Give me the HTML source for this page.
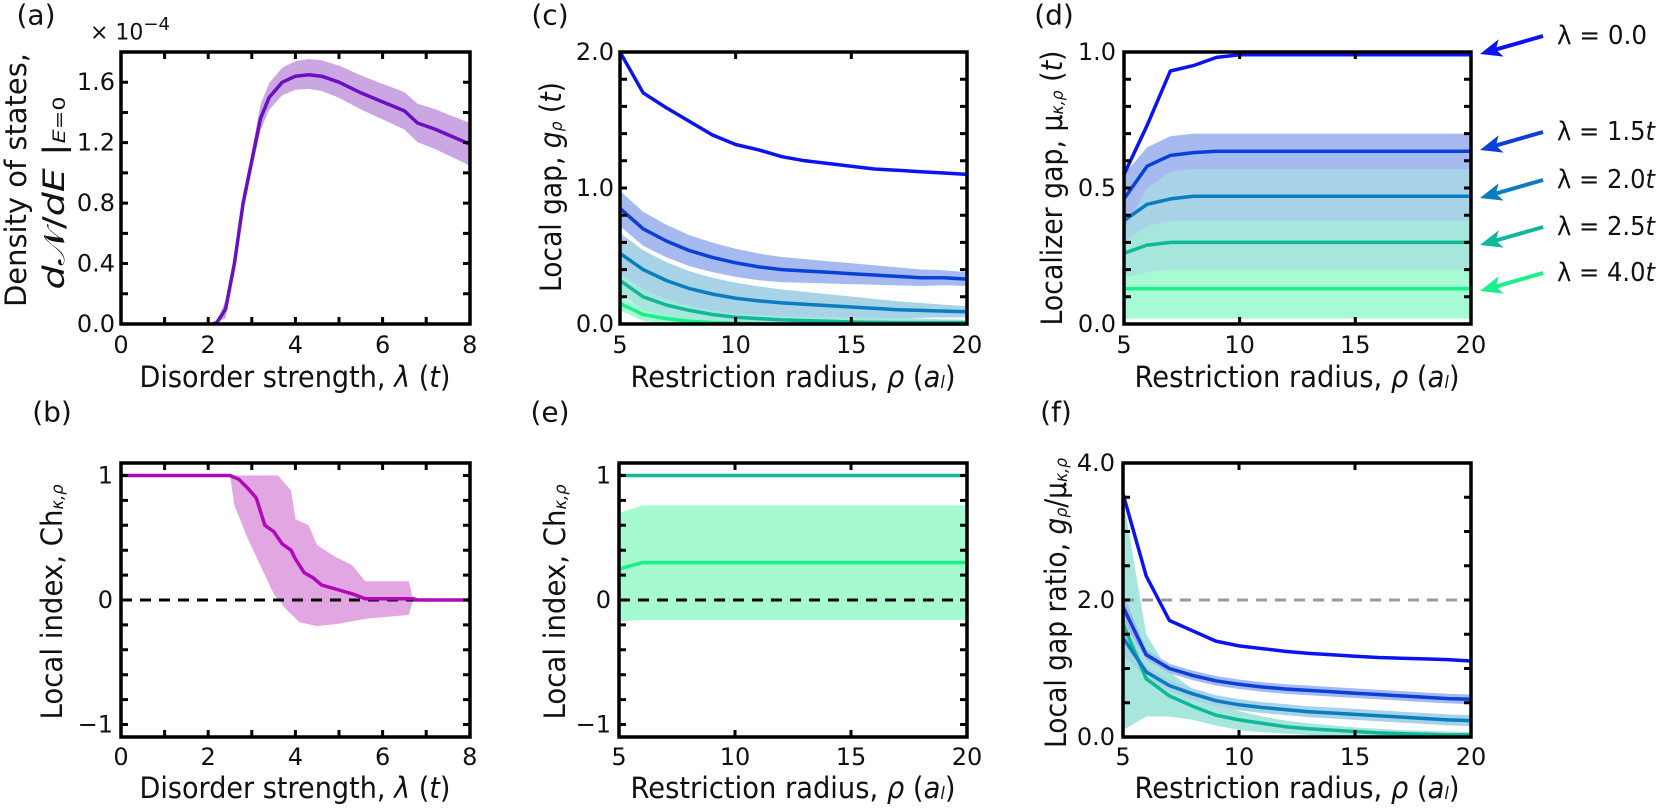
<!DOCTYPE html>
<html><head><meta charset="utf-8"><style>
html,body{margin:0;padding:0;background:#fff;}
svg{display:block;font-family:"DejaVu Sans","Liberation Sans",sans-serif;}
</style></head><body>
<svg id="s" width="1661" height="809" xmlns="http://www.w3.org/2000/svg"></svg>
<script>
const S=document.getElementById('s');let out='';
function P(pts){return pts.map((p,i)=>(i?'L':'M')+p[0].toFixed(1)+','+p[1].toFixed(1)).join('');}
function line(pts,c,w,extra){out+=`<path d="${P(pts)}" fill="none" stroke="${c}" stroke-width="${w}" stroke-linejoin="round" ${extra||''}/>`;}
function band(up,lo,c){out+=`<path d="${P(up.concat(lo.slice().reverse()))}Z" fill="${c}"/>`;}
function text(x,y,t,o){o=o||{};out+=`<text x="${x}" y="${y}" font-size="${o.fs||24}" text-anchor="${o.a||'middle'}" dominant-baseline="central" ${o.tl?`textLength="${o.tl}" lengthAdjust="spacingAndGlyphs"`:''} ${o.rot?`transform="rotate(-90 ${x} ${y})"`:''} fill="#111">${t}</text>`;}
function frame(L,R,T,B){out+=`<rect x="${L}" y="${T}" width="${R-L}" height="${B-T}" fill="none" stroke="#000" stroke-width="3.5"/>`;}
function xt(L,R,T,B,xs,fx,len){xs.forEach(v=>{const x=fx(v);out+=`<path d="M${x},${B}V${B-len}M${x},${T}V${T+len}" stroke="#000" stroke-width="3"/>`;});}
function yt(L,R,T,B,ys,fy,len){ys.forEach(v=>{const y=fy(v);out+=`<path d="M${L},${y}H${L+len}M${R},${y}H${R-len}" stroke="#000" stroke-width="3"/>`;});}
function rng(a,b,st){const r=[];for(let v=a;v<=b+1e-9;v+=st)r.push(+v.toFixed(6));return r;}
const R=rng(5,20,1);
// ---------- Panel a
{const L=121,Rr=470,T=52,B=324;const fx=x=>L+x*43.6,fy=v=>B-v*151.1;
const m=[[2.1,0],[2.2,0.01],[2.4,0.1],[2.6,0.4],[2.8,0.8],[3.0,1.08],[3.2,1.36],[3.4,1.5],[3.7,1.6],[4.0,1.64],[4.3,1.65],[4.6,1.64],[5,1.6],[5.5,1.53],[6,1.47],[6.5,1.41],[6.8,1.33],[7.2,1.29],[7.6,1.24],[8,1.19]];
const up=m.map(([x,v],i)=>[fx(x),fy(x<2.3?v:v+(x<3.2?0.06:0.1+(x-4)*0.01))]);
const lo=m.map(([x,v])=>[fx(x),fy(x<2.3?v:Math.max(0,v-(x<3.2?0.06:0.09+(x-4)*0.013)))]);
band(up,lo,'#caa6e2');line(m.map(([x,v])=>[fx(x),fy(v)]),'#6a10c0',3.5);
frame(L,Rr,T,B);xt(L,Rr,T,B,rng(1,7,1),fx,7);yt(L,Rr,T,B,rng(0.2,1.6,0.2),fy,7);
[0,2,4,6,8].forEach(v=>text(fx(v),345,v));
[0,0.4,0.8,1.2,1.6].forEach(v=>text(L-6,fy(v),v.toFixed(1),{a:'end'}));
text(90,33,'× 10<tspan font-size="18" dy="-9">−4</tspan>',{fs:22,a:'start'});
text(36,15,'(a)',{fs:28});
text(295,377,'Disorder strength, <tspan font-style="italic">λ</tspan> (<tspan font-style="italic">t</tspan>)',{fs:29,tl:311});
text(16,180,'Density of states,',{fs:29,rot:1,tl:254});
text(54,193,'<tspan font-style="italic">d</tspan>𝒩/<tspan font-style="italic">dE</tspan> |<tspan font-size="17" font-style="italic" dy="6">E</tspan><tspan font-size="17" dy="0">=0</tspan>',{fs:29,rot:1,tl:193});
}
// ---------- Panel c
const cols={l0:'#0a14f0',l15:'#0a40d8',l2:'#0a7cc0',l25:'#10b89a',l4:'#18f08a'};
const bands={l15:'#a6baf0',l2:'#a8d2e6',l25:'#a6e6dc',l4:'#a6fad4'};
{const L=620,Rr=967,T=52,B=324;const fx=x=>L+(x-5)*23.13,fy=v=>B-v*136;
const d0=[2.0,1.7,1.59,1.49,1.39,1.32,1.28,1.23,1.2,1.18,1.16,1.14,1.13,1.12,1.11,1.1];
const d15=[0.85,0.7,0.61,0.54,0.49,0.45,0.42,0.40,0.39,0.38,0.37,0.36,0.35,0.34,0.34,0.33];
const d2=[0.52,0.4,0.32,0.26,0.22,0.19,0.17,0.155,0.145,0.135,0.125,0.115,0.105,0.1,0.095,0.09];
const d25=[0.32,0.2,0.14,0.1,0.07,0.05,0.04,0.03,0.025,0.02,0.015,0.012,0.01,0.01,0.01,0.01];
const d4=[0.15,0.07,0.04,0.02,0.01,0.005,0,0,0,0,0,0,0,0,0,0];
const mk=(d,w0,w1)=>[R.map((x,i)=>[fx(x),fy(d[i]+w0+(w1-w0)*i/15)]),R.map((x,i)=>[fx(x),fy(Math.max(0,d[i]-w0-(w1-w0)*i/15))])];
let b;
b=mk(d4,0.05,0.01);band(b[0],b[1],bands.l4);
b=mk(d25,0.1,0.02);band(b[0],b[1],bands.l25);
b=mk(d2,0.15,0.04);band(b[0],b[1],bands.l2);
b=mk(d15,0.13,0.05);band(b[0],b[1],bands.l15);
[[d4,'l4'],[d25,'l25'],[d2,'l2'],[d15,'l15'],[d0,'l0']].forEach(([d,k])=>line(R.map((x,i)=>[fx(x),fy(d[i])]),cols[k],3.5));
frame(L,Rr,T,B);xt(L,Rr,T,B,[10,15],fx,7);yt(L,Rr,T,B,rng(0.2,1.8,0.2),fy,7);
[5,10,15,20].forEach(v=>text(fx(v),345,v));
[0,1,2].forEach(v=>text(L-6,fy(v),v.toFixed(1),{a:'end'}));
text(550,15,'(c)',{fs:28});
text(793,377,'Restriction radius, <tspan font-style="italic">ρ</tspan> (<tspan font-style="italic">a<tspan font-size="17" dy="6">l</tspan></tspan><tspan dy="-6">)</tspan>',{fs:29,tl:325});
text(551,187,'Local gap, <tspan font-style="italic">g<tspan font-size="17" dy="6">ρ</tspan></tspan><tspan dy="-6"> (</tspan><tspan font-style="italic">t</tspan>)',{fs:29,rot:1,tl:210});
}
// ---------- Panel d
{const L=1124,Rr=1471,T=52,B=324;const fx=x=>L+(x-5)*23.13,fy=v=>B-v*272;
const f=(a,s)=>R.map((x,i)=>[fx(x),fy(i<a.length?a[i]:a[a.length-1])]);
band(f([0.2,0.23,0.24]),f([0.02]),bands.l4);
band(f([0.38,0.4,0.41]),f([0.17,0.19,0.2]),bands.l25);
band(f([0.55,0.56,0.57]),f([0.3,0.36,0.38]),bands.l2);
band(f([0.55,0.65,0.69,0.7]),f([0.35,0.5,0.56,0.57]),bands.l15);
line(f([0.13]),cols.l4,3.5);line(f([0.26,0.29,0.3]),cols.l25,3.5);line(f([0.38,0.44,0.46,0.47]),cols.l2,3.5);
line(f([0.46,0.58,0.62,0.63,0.635]),cols.l15,3.5);line(f([0.55,0.73,0.93,0.95,0.98,0.99]),cols.l0,3.5);
frame(L,Rr,T,B);xt(L,Rr,T,B,[10,15],fx,7);yt(L,Rr,T,B,rng(0.1,0.9,0.1),fy,7);
[5,10,15,20].forEach(v=>text(fx(v),345,v));
[0,0.5,1].forEach(v=>text(L-8,fy(v),v.toFixed(1),{a:'end'}));
text(1054,15,'(d)',{fs:28});
text(1297,377,'Restriction radius, <tspan font-style="italic">ρ</tspan> (<tspan font-style="italic">a<tspan font-size="17" dy="6">l</tspan></tspan><tspan dy="-6">)</tspan>',{fs:29,tl:325});
text(1052,188,'Localizer gap, μ<tspan font-size="17" dy="6" font-style="italic">κ,ρ</tspan><tspan dy="-6"> (</tspan><tspan font-style="italic">t</tspan>)',{fs:29,rot:1,tl:275});
const labs=[[36,'0.0',cols.l0,90],[132,'1.5<tspan font-style="italic">t</tspan>',cols.l15,98],[180,'2.0<tspan font-style="italic">t</tspan>',cols.l2,98],[227,'2.5<tspan font-style="italic">t</tspan>',cols.l25,98],[273,'4.0<tspan font-style="italic">t</tspan>',cols.l4,98]];
labs.forEach(([y,t,c,tl])=>{
 text(1557,y,'λ = '+t,{fs:26,a:'start',tl:tl});
 const tx=1543,ty=y,hx=1480,hy=y+18;const ang=Math.atan2(hy-ty,hx-tx);
 const bx=hx-22*Math.cos(ang),by=hy-22*Math.sin(ang);const px=-Math.sin(ang)*9,py=Math.cos(ang)*9;
 out+=`<path d="M${tx},${ty}L${bx+ (hx-bx)*0.3},${by+(hy-by)*0.3}" stroke="${c}" stroke-width="4"/>`;
 out+=`<path d="M${hx},${hy}L${bx+px},${by+py}L${bx+(hx-bx)*0.25},${by+(hy-by)*0.25}L${bx-px},${by-py}Z" fill="${c}"/>`;
});
}
// ---------- Panel b
{const L=121,Rr=470,T=463,B=737;const fx=x=>L+x*43.6,fy=v=>600-v*124.5;
const up=[[2.5,1],[3.6,1],[3.9,0.88],[4.0,0.65],[4.3,0.6],[4.5,0.44],[4.9,0.35],[5.3,0.28],[5.6,0.15],[6.6,0.15],[6.7,0]];
const lo=[[2.5,1],[2.6,0.76],[2.9,0.5],[3.3,0.2],[3.5,0.05],[3.8,-0.08],[4.1,-0.18],[4.5,-0.21],[5,-0.19],[5.6,-0.15],[6.6,-0.12],[6.7,0]];
band(up.map(([x,v])=>[fx(x),fy(v)]),lo.map(([x,v])=>[fx(x),fy(v)]),'#e2a6e2');
out+=`<path d="M${L},600H${Rr}" stroke="#000" stroke-width="3" stroke-dasharray="11,8"/>`;
const m=[[0,1],[2.5,1],[2.7,0.97],[2.9,0.9],[3.1,0.82],[3.3,0.6],[3.5,0.55],[3.7,0.45],[3.9,0.4],[4.0,0.33],[4.2,0.22],[4.4,0.18],[4.6,0.12],[5.0,0.08],[5.3,0.05],[5.6,0.01],[6.7,0.01],[6.8,0],[8,0]];
line(m.map(([x,v])=>[fx(x),fy(v)]),'#b00ab8',3.5);
frame(L,Rr,T,B);xt(L,Rr,T,B,rng(1,7,1),fx,7);yt(L,Rr,T,B,rng(-1,1,0.2),fy,7);
[0,2,4,6,8].forEach(v=>text(fx(v),757,v));
[[1,'1'],[0,'0'],[-1,'−1']].forEach(([v,t])=>text(L-8,fy(v),t,{a:'end'}));
text(52,412,'(b)',{fs:28});
text(295,788,'Disorder strength, <tspan font-style="italic">λ</tspan> (<tspan font-style="italic">t</tspan>)',{fs:29,tl:311});
text(52,602,'Local index, Ch<tspan font-size="17" dy="6" font-style="italic">κ,ρ</tspan>',{fs:29,rot:1,tl:235});
}
// ---------- Panel e
{const L=619,Rr=967,T=463,B=737;const fx=x=>L+(x-5)*23.2,fy=v=>600-v*124.5;
band(R.map(x=>[fx(x),fy(x==5?0.7:0.76)]),R.map(x=>[fx(x),fy(x==5?-0.17:-0.16)]),'#a6fad0');
out+=`<path d="M${L},600H${Rr}" stroke="#000" stroke-width="3" stroke-dasharray="11,8"/>`;
line(R.map(x=>[fx(x),fy(x==5?0.25:0.3)]),'#18f08a',3.5);
line([[fx(5),fy(1)],[fx(20),fy(1)]],'#10b8a0',3.5);
frame(L,Rr,T,B);xt(L,Rr,T,B,[10,15],fx,7);yt(L,Rr,T,B,rng(-1,1,0.2),fy,7);
[5,10,15,20].forEach(v=>text(fx(v),757,v));
[[1,'1'],[0,'0'],[-1,'−1']].forEach(([v,t])=>text(L-8,fy(v),t,{a:'end'}));
text(550,412,'(e)',{fs:28});
text(793,788,'Restriction radius, <tspan font-style="italic">ρ</tspan> (<tspan font-style="italic">a<tspan font-size="17" dy="6">l</tspan></tspan><tspan dy="-6">)</tspan>',{fs:29,tl:325});
text(555,602,'Local index, Ch<tspan font-size="17" dy="6" font-style="italic">κ,ρ</tspan>',{fs:29,rot:1,tl:235});
}
// ---------- Panel f
{const L=1123,Rr=1471,T=463,B=737;const fx=x=>L+(x-5)*23.2,fy=v=>B-v*68.5;
const d0=[3.55,2.35,1.7,1.55,1.4,1.33,1.29,1.25,1.22,1.2,1.18,1.16,1.15,1.14,1.13,1.11];
const d15=[1.9,1.2,1.0,0.9,0.82,0.77,0.73,0.70,0.68,0.66,0.64,0.62,0.6,0.58,0.56,0.55];
const d2=[1.45,0.95,0.75,0.63,0.53,0.47,0.43,0.4,0.37,0.35,0.33,0.31,0.29,0.27,0.25,0.24];
const d25=[1.65,0.85,0.6,0.45,0.32,0.25,0.2,0.15,0.12,0.1,0.08,0.06,0.05,0.04,0.03,0.03];
const u25=[3.5,1.5,0.95,0.7,0.5,0.38,0.3,0.24,0.2,0.17,0.14,0.12,0.1,0.09,0.08,0.07];
const l25=[0.1,0.3,0.3,0.25,0.17,0.1,0.07,0.05,0.03,0.02,0.01,0.01,0,0,0,0];
band(R.map((x,i)=>[fx(x),fy(u25[i])]),R.map((x,i)=>[fx(x),fy(l25[i])]),bands.l25);
const mk=(d,w)=>[R.map((x,i)=>[fx(x),fy(d[i]+w*(i==0?3:1))]),R.map((x,i)=>[fx(x),fy(Math.max(0,d[i]-w*(i==0?3:1)))])];
let b=mk(d2,0.08);band(b[0],b[1],bands.l2);
b=mk(d15,0.07);band(b[0],b[1],bands.l15);
out+=`<path d="M${L},${fy(2)}H${Rr}" stroke="#999" stroke-width="3" stroke-dasharray="11,8"/>`;
[[d25,'l25'],[d2,'l2'],[d15,'l15'],[d0,'l0']].forEach(([d,k])=>line(R.map((x,i)=>[fx(x),fy(d[i])]),cols[k],3.5));
frame(L,Rr,T,B);xt(L,Rr,T,B,[10,15],fx,7);yt(L,Rr,T,B,rng(0.5,3.5,0.5),fy,7);
[5,10,15,20].forEach(v=>text(fx(v),757,v));
[0,2,4].forEach(v=>text(L-8,fy(v),v.toFixed(1),{a:'end'}));
text(1056,412,'(f)',{fs:28});
text(1297,788,'Restriction radius, <tspan font-style="italic">ρ</tspan> (<tspan font-style="italic">a<tspan font-size="17" dy="6">l</tspan></tspan><tspan dy="-6">)</tspan>',{fs:29,tl:325});
text(1056,603,'Local gap ratio, <tspan font-style="italic">g<tspan font-size="17" dy="6">ρ</tspan></tspan><tspan dy="-6">/μ</tspan><tspan font-size="17" dy="6" font-style="italic">κ,ρ</tspan>',{fs:29,rot:1,tl:290});
}
S.innerHTML=out;
</script>
</body></html>
